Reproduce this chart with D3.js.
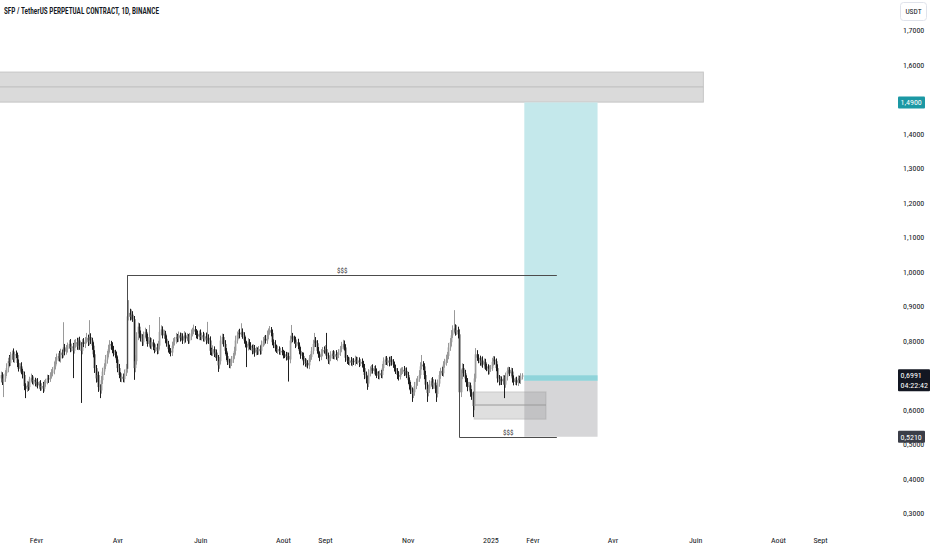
<!DOCTYPE html>
<html>
<head>
<meta charset="utf-8">
<script src="https://cdn.jsdelivr.net/npm/d3@7"></script>
<style>
  body { margin: 0; background: #fff; }
  text { font-family: "Liberation Sans Narrow", "Roboto Condensed", "Liberation Sans", Arial, sans-serif; }
</style>
</head>
<body>
<svg id="chart" width="932" height="550"></svg>
<script>
// ---- data (prices in thousandths of USDT, one candle per day from startDay) ----
const title = "SFP / TetherUS PERPETUAL CONTRACT, 1D, BINANCE";
const startDay = "2024-01-06";
const firstOpen = 690;
const closes = [
  700,680,690,705,720,740,735,755,762,745, 760,758,735,718,725,712,700,668,660,672,
  665,688,692,682,686,675,680,670,675,664, 668,660,676,682,690,688,700,705,714,725,
  742,750,755,748,765,758,780,768,775,785, 790,778,783,770,790,795,782,800,785,770,
  795,790,800,808,795,810,800,785,760,720, 690,700,665,655,685,710,725,745,760,775,
  790,785,772,765,758,745,720,700,690,695, 688,705,718,870,880,868,875,862,720,740,
  810,840,820,805,795,815,825,810,790,800, 785,795,782,775,780,770,785,825,832,815,
  820,805,790,775,770,765,785,798,800,810, 805,815,808,812,800,815,806,810,800,812,
  820,828,832,825,818,812,820,810,815,805, 812,800,808,800,770,765,775,760,765,750,
  728,740,800,810,790,770,755,738,730,735, 745,755,770,800,815,822,818,825,815,800,
  790,780,795,785,780,770,778,765,772,768, 775,770,790,798,805,800,815,825,830,822,
  795,790,778,772,775,768,770,765,760,758, 752,755,745,800,812,805,800,790,795,785,
  770,758,755,740,732,735,728,748,752,770, 790,800,792,770,760,752,765,772,770,775,
  755,742,748,758,762,755,760,752,758,765, 775,785,790,780,750,742,738,742,735,740,
  738,745,740,742,735,738,732,720,700,690, 675,705,715,720,712,718,710,700,698,705,
  700,720,740,745,738,742,735,745,738,730, 720,712,700,695,710,712,715,708,712,700,
  685,670,655,645,650,668,680,688,700,725, 730,725,700,672,648,660,675,682,670,678,
  660,645,675,700,712,705,730,738,745,755, 780,795,815,830,835,825,830,818,650,700,
  720,705,690,680,665,670,650,640,610,690, 760,750,745,735,742,730,738,725,720,712,
  718,720,738,745,740,720,690,680,688,682, 690,672,695,712,715,705,710,690,680,685,
  678,690,685,695,699.1
];
const upWick = [
  10,8,12,9,14,10,18,12,9,15, 8,11,7,10,9,12,6,10,8,11,
  9,7,12,8,10,6,9,11,7,10, 8,12,9,7,11,10,8,12,9,14,
  10,12,8,15,11,9,73,10,12,9, 11,14,8,10,12,9,13,8,11,10,
  9,12,10,14,9,49,11,8,10,12, 9,14,10,8,12,11,9,13,10,12,
  11,9,10,12,8,10,9,12,8,10, 9,11,14,120,37,12,15,10,9,18,
  14,12,10,9,13,11,12,8,10,45, 9,12,8,10,9,11,14,43,12,9,
  11,8,10,9,12,8,11,9,10,12, 9,11,8,10,9,12,8,11,9,10,
  12,9,14,10,8,11,9,12,8,10, 9,11,46,10,12,9,11,8,10,9,
  8,12,14,10,9,11,8,10,9,12, 10,9,12,14,11,9,12,25,10,9,
  11,8,12,9,10,8,11,9,10,8, 9,11,10,12,9,11,14,10,12,9,
  10,8,11,9,10,8,9,11,8,10, 9,11,10,14,33,10,9,11,8,10,
  9,11,8,10,9,12,8,10,9,11, 12,22,10,9,11,8,10,9,11,12,
  47,10,9,11,8,10,9,12,8,10, 9,11,12,10,9,8,11,9,10,8,
  9,11,8,10,9,8,10,9,12,10, 8,12,10,9,11,8,10,9,11,8,
  10,12,11,9,10,8,11,9,10,8, 9,10,8,11,9,10,8,11,9,10,
  9,8,10,9,11,12,10,9,14,12, 28,10,9,12,8,11,10,9,12,10,
  9,10,12,11,9,12,10,9,14,12, 13,12,15,14,53,12,15,10,14,16,
  14,12,10,9,11,10,8,9,12,14, 18,12,10,11,9,12,10,9,8,11,
  10,9,12,10,9,8,11,10,9,8, 10,9,12,10,9,8,11,10,9,8,
  10,9,8,10,6
];
const downWick = [
  12,9,44,10,8,12,10,9,11,8, 10,9,12,8,11,9,10,12,27,9,
  11,8,10,9,12,8,10,9,11,10, 9,12,8,10,9,11,8,10,9,12,
  8,11,10,9,12,10,8,11,9,10, 9,12,10,79,8,11,9,10,12,151,
  10,9,12,8,11,9,10,12,9,14, 12,10,14,22,9,11,10,8,12,9,
  10,12,9,11,8,10,12,9,10,11, 9,10,8,11,12,10,9,8,34,12,
  10,9,12,8,11,10,9,12,8,10, 9,11,10,12,8,10,9,11,10,9,
  10,12,8,10,9,11,10,8,12,9, 10,9,11,8,10,9,12,8,10,9,
  11,8,10,9,12,8,11,9,10,8, 9,11,8,10,12,9,10,8,11,9,
  19,10,9,11,8,10,12,9,10,11, 9,10,8,11,9,10,12,8,10,9,
  10,57,9,11,8,10,9,12,8,10, 9,11,10,8,12,9,10,11,8,10,
  9,12,10,8,11,9,10,8,12,9, 10,9,64,11,8,10,9,12,8,10,
  9,11,10,12,8,10,9,11,10,8, 10,9,11,8,10,12,9,10,8,11,
  9,10,12,8,11,9,10,8,12,9, 10,8,11,9,12,10,9,11,8,10,
  9,11,8,10,12,9,10,11,12,14, 18,10,9,11,8,10,12,9,10,11,
  9,10,8,11,9,12,10,8,11,9, 10,9,12,11,8,10,9,11,10,9,
  11,12,10,23,12,10,9,11,8,10, 9,11,12,14,26,10,12,9,11,10,
  12,23,10,9,11,8,10,9,11,10, 9,10,12,8,10,11,9,12,17,14,
  12,10,11,14,12,10,13,12,32,12, 10,9,11,8,10,9,12,10,9,11,
  10,9,8,11,10,9,12,10,9,11, 10,39,9,11,10,8,9,12,10,9,
  8,10,9,11,8
];

// 0,7000 sits fully under the last-price tag, so it is not listed
const priceTicks = [0.3,0.4,0.5,0.6,0.8,0.9,1.0,1.1,1.2,1.3,1.4,1.5,1.6,1.7];
const timeTicks = ["2024-02-01","2024-04-01","2024-06-01","2024-08-01","2024-09-01","2024-11-01",
                   "2025-01-01","2025-02-01","2025-04-01","2025-06-01","2025-08-01","2025-09-01"];
const timeLabels = ["Févr","Avr","Juin","Août","Sept","Nov","2025","Févr","Avr","Juin","Août","Sept"];

// drawings: supply zone, liquidity lines, demand box, long position
const zoneDates = ["2023-12-01","2025-06-07"];
const zonePrices = [1.578, 1.535, 1.491];
const boxDates = ["2024-12-20","2025-02-11"];
const boxPrices = [0.651, 0.613, 0.572];
const topLiqDates = ["2024-04-08","2025-02-19"];
const topLiqPrices = [0.718, 0.990];
const lowLiqDates = ["2024-12-09","2025-02-19"];
const lowLiqPrices = [0.830, 0.521];
const posDates = ["2025-01-26","2025-03-21"];
const posTarget = 1.49, posEntry = 0.683, posStop = 0.521;
const lastPrice = 0.6991, countdown = "04:22:42";

// ---- setup ----
const parse = d3.utcParse("%Y-%m-%d");
const svg = d3.select("#chart");
const plotRight = 892;

const x = d3.scaleUtc()
  .domain([parse("2024-02-01"), parse("2025-09-01")])
  .range([36, 820]);
const y = d3.scaleLinear()
  .domain([0.3, 1.7])
  .range([513, 30]);

const fr = d3.formatLocale({decimal: ",", thousands: " ", grouping: [3], currency: ["", ""]});
const fmt = fr.format(".4f");

svg.append("defs").append("clipPath").attr("id", "plot")
  .append("rect").attr("x", 0).attr("y", 0).attr("width", plotRight).attr("height", 530);

const plot = svg.append("g").attr("clip-path", "url(#plot)");

// supply zone at the top
plot.append("rect")
  .attr("x", x(parse(zoneDates[0]))).attr("width", x(parse(zoneDates[1])) - x(parse(zoneDates[0])))
  .attr("y", y(zonePrices[0])).attr("height", y(zonePrices[2]) - y(zonePrices[0]))
  .attr("fill", "#dadada").attr("stroke", "#c6c6c6").attr("stroke-width", 1);
plot.append("line")
  .attr("x1", x(parse(zoneDates[0]))).attr("x2", x(parse(zoneDates[1])))
  .attr("y1", y(zonePrices[1])).attr("y2", y(zonePrices[1]))
  .attr("stroke", "#bcbcbc");

// long position tool
const px0 = x(parse(posDates[0])), px1 = x(parse(posDates[1]));
plot.append("rect").attr("x", px0).attr("width", px1 - px0)
  .attr("y", y(posTarget)).attr("height", y(posEntry) - y(posTarget))
  .attr("fill", "#c4e8eb");
plot.append("rect").attr("x", px0).attr("width", px1 - px0)
  .attr("y", y(lastPrice)).attr("height", y(posEntry) - y(lastPrice))
  .attr("fill", "#8fd4da");
plot.append("rect").attr("x", px0).attr("width", px1 - px0)
  .attr("y", y(posEntry)).attr("height", y(posStop) - y(posEntry))
  .attr("fill", "#d6d6d8");

// demand box
const bx0 = x(parse(boxDates[0])), bx1 = x(parse(boxDates[1]));
plot.append("rect").attr("x", bx0).attr("width", bx1 - bx0)
  .attr("y", y(boxPrices[0])).attr("height", y(boxPrices[2]) - y(boxPrices[0]))
  .attr("fill", "rgba(150,150,150,0.3)").attr("stroke", "rgba(150,150,150,0.35)");
plot.append("line").attr("x1", bx0).attr("x2", bx1)
  .attr("y1", y(boxPrices[1])).attr("y2", y(boxPrices[1]))
  .attr("stroke", "#9a9a9a");

// candles
const start = parse(startDay);
const candles = closes.map((c, i) => {
  const o = i === 0 ? firstOpen : closes[i - 1];
  return {
    date: d3.utcDay.offset(start, i),
    o: o / 1000, c: c / 1000,
    h: (Math.max(o, c) + upWick[i]) / 1000,
    l: (Math.min(o, c) - downWick[i]) / 1000
  };
});
const upCol = "#9a9a9a", dnCol = "#1f1f1f";
const cg = plot.append("g").selectAll("g").data(candles).join("g");
cg.append("line")
  .attr("x1", d => Math.round(x(d.date)) + 0.5).attr("x2", d => Math.round(x(d.date)) + 0.5)
  .attr("y1", d => y(d.h)).attr("y2", d => y(d.l))
  .attr("stroke", d => d.c >= d.o ? upCol : dnCol).attr("stroke-width", 1);
cg.append("rect")
  .attr("x", d => Math.round(x(d.date)) - 0.3).attr("width", 1.7)
  .attr("y", d => y(Math.max(d.o, d.c)))
  .attr("height", d => Math.max(1, Math.abs(y(d.o) - y(d.c))))
  .attr("fill", d => d.c >= d.o ? upCol : dnCol);

// liquidity lines ($$$)
const liq = (dates, prices) => {
  const xa = Math.round(x(parse(dates[0]))) + 0.5, xb = x(parse(dates[1]));
  const ya = y(prices[0]), yb = Math.round(y(prices[1])) + 0.5;
  plot.append("path")
    .attr("d", `M${xa},${ya}V${yb}H${xb}`)
    .attr("fill", "none").attr("stroke", "#4c4c4c").attr("stroke-width", 1);
  plot.append("text")
    .attr("x", (xa + xb) / 2).attr("y", yb - 3)
    .attr("text-anchor", "middle").attr("font-size", 7).attr("fill", "#333")
    .text("$$$");
};
liq(topLiqDates, topLiqPrices);
liq(lowLiqDates, lowLiqPrices);

// title
svg.append("text").attr("x", 4).attr("y", 14)
  .attr("font-size", 8.5).attr("font-weight", 600).attr("fill", "#131722")
  .attr("textLength", 155).attr("lengthAdjust", "spacingAndGlyphs")
  .text(title);

// time axis
const xAxis = d3.axisBottom(x)
  .tickValues(timeTicks.map(parse))
  .tickFormat((d, i) => timeLabels[i])
  .tickSize(0).tickPadding(0);
const gx = svg.append("g").attr("transform", "translate(0,537)").call(xAxis);
gx.select(".domain").remove();
gx.selectAll("text").attr("font-size", 8).attr("fill", "#131722").style("font-family", null);

// price axis
const yAxis = d3.axisRight(y)
  .tickValues(priceTicks)
  .tickFormat(fmt)
  .tickSize(0).tickPadding(0);
const gy = svg.append("g").attr("transform", "translate(903,0)").call(yAxis);
gy.select(".domain").remove();
gy.selectAll("text").attr("font-size", 8).attr("fill", "#131722").style("font-family", null);

// USDT box
svg.append("rect").attr("x", 900.5).attr("y", 2.5).attr("width", 26).attr("height", 18).attr("rx", 3)
  .attr("fill", "#fff").attr("stroke", "#e0e3eb");
svg.append("text").attr("x", 913.5).attr("y", 14).attr("text-anchor", "middle")
  .attr("font-size", 7.5).attr("fill", "#131722").text("USDT");

// price labels on the axis
const tag = (price, fill, lines, w) => {
  const h = lines.length * 10 + 2;
  const top = y(price) - 6;
  svg.append("rect").attr("x", 898).attr("y", top).attr("width", w).attr("height", h)
    .attr("rx", 1).attr("fill", fill);
  lines.forEach((t, k) => {
    svg.append("text").attr("x", 900.5).attr("y", top + 9 + k * 10)
      .attr("font-size", 8).attr("fill", "#fff").text(t);
  });
};
tag(posTarget, "#1b98a4", [fmt(posTarget)], 27);
tag(lastPrice, "#131722", [fmt(lastPrice), countdown], 32);
tag(posStop, "#3b3e48", [fmt(posStop)], 27);
</script>
</body>
</html>
